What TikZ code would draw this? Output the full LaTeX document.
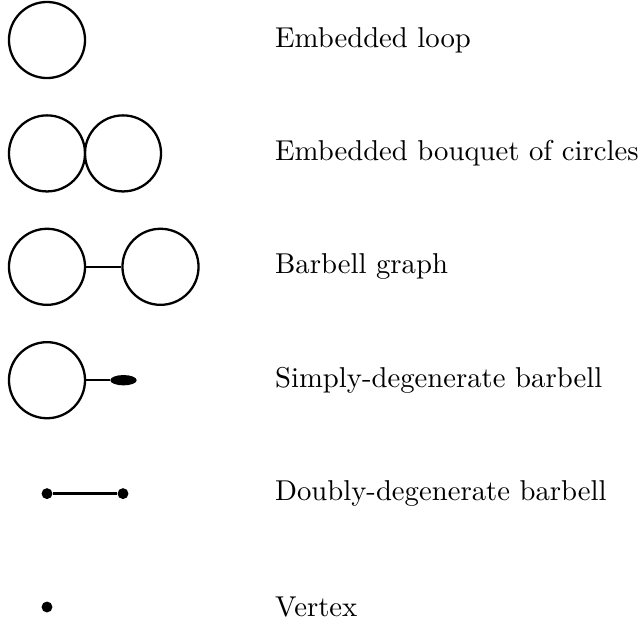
\documentclass[tikz,border=0pt]{standalone}
\usetikzlibrary{shapes.geometric}
\begin{document}
\begin{tikzpicture}[x=0.3484pt,y=-0.3484pt,
  loopc/.style={draw,circle,thick,inner sep=0pt,minimum size=26.5pt},
  dotv/.style={fill,circle,inner sep=0pt,minimum size=3.8pt},
  blob/.style={fill,ellipse,inner sep=0pt,minimum width=9.2pt,minimum height=3.6pt},
  conn/.style={thick},
  lab/.style={anchor=west}]
\useasboundingbox (0,0) rectangle (642,622);
% row 1
\node[loopc] (a1) at (47,40) {};
\node[lab] (t1) at (265,40) {Embedded loop};
% row 2
\node[loopc] (b1) at (47,153.4) {};
\node[loopc] (b2) at (123,153.4) {};
\node[lab] (t2) at (265,153.4) {Embedded bouquet of circles};
% row 3
\node[loopc] (c1) at (47,266.8) {};
\node[loopc] (c2) at (160.5,266.8) {};
\draw[conn] (c1) -- (c2);
\node[lab] (t3) at (265,266.8) {Barbell graph};
% row 4
\node[loopc] (d1) at (47,380.2) {};
\node[blob] (d2) at (123.5,380.2) {};
\draw[conn] (d1) -- (d2);
\node[lab] (t4) at (265,380.2) {Simply-degenerate barbell};
% row 5
\node[dotv] (e1) at (47,493.6) {};
\node[dotv] (e2) at (123,493.6) {};
\draw[conn] (e1) -- (e2);
\node[lab] (t5) at (265,493.6) {Doubly-degenerate barbell};
% row 6
\node[dotv] (f1) at (47,607) {};
\node[lab] (t6) at (265,607) {Vertex};
\end{tikzpicture}
\end{document}
